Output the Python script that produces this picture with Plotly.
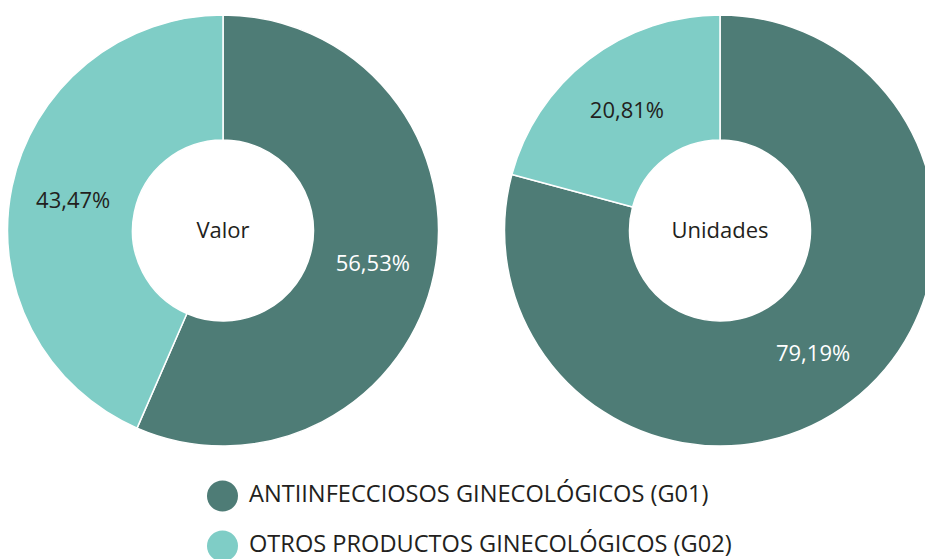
import plotly.graph_objects as go

categories = ["ANTIINFECCIOSOS GINECOLÓGICOS (G01)", "OTROS PRODUCTOS GINECOLÓGICOS (G02)"]
valor = [56.53, 43.47]
unidades = [79.19, 20.81]
chart_titles = ["Valor", "Unidades"]

DARK = "#4e7c76"
LIGHT = "#7fcdc6"
TXT = "#231f20"
FONT = "Open Sans"

W, H = 940, 559

def fmt(vals):
    return [f"{v:.2f}%".replace(".", ",") for v in vals]

fig = go.Figure()

for vals, title, xd in [
    (valor, chart_titles[0], [7 / W, 439 / W]),
    (unidades, chart_titles[1], [504 / W, 936 / W]),
]:
    fig.add_trace(go.Pie(
        labels=categories,
        values=vals,
        text=fmt(vals),
        texttemplate="%{text}",
        textinfo="text",
        textposition="inside",
        insidetextorientation="horizontal",
        insidetextfont=dict(family=FONT, size=22, color=["white", TXT]),
        hole=0.42,
        sort=False,
        direction="clockwise",
        rotation=0,
        marker=dict(colors=[DARK, LIGHT], line=dict(color="white", width=1.5)),
        title=dict(text=title, position="middle center", font=dict(family=FONT, size=22, color=TXT)),
        domain=dict(x=xd, y=[113 / H, 544 / H]),
        showlegend=False,
        hoverinfo="label+percent",
    ))

# legend drawn as a marker+text trace on its own axes
fig.add_trace(go.Scatter(
    x=[0, 0],
    y=[1, 0],
    mode="markers+text",
    text=categories,
    texttemplate="\u00a0%{text}",
    textposition="middle right",
    textfont=dict(family=FONT, size=23.6, color=TXT),
    marker=dict(size=31, color=[DARK, LIGHT], symbol="circle"),
    cliponaxis=False,
    showlegend=False,
    hoverinfo="skip",
    xaxis="x2",
    yaxis="y2",
))

fig.update_layout(
    width=W,
    height=H,
    margin=dict(l=0, r=0, t=0, b=0),
    paper_bgcolor="white",
    plot_bgcolor="rgba(0,0,0,0)",
    showlegend=False,
    xaxis2=dict(domain=[222.5 / W, 1], range=[0, 1], visible=False, fixedrange=True),
    yaxis2=dict(domain=[13 / H, 63 / H], range=[0, 1], visible=False, fixedrange=True),
)

fig.write_html(
    "out.html",
    config={"displayModeBar": False},
    post_script="document.body.style.margin='0';document.body.style.overflow='hidden';document.documentElement.style.overflow='hidden';",
)
